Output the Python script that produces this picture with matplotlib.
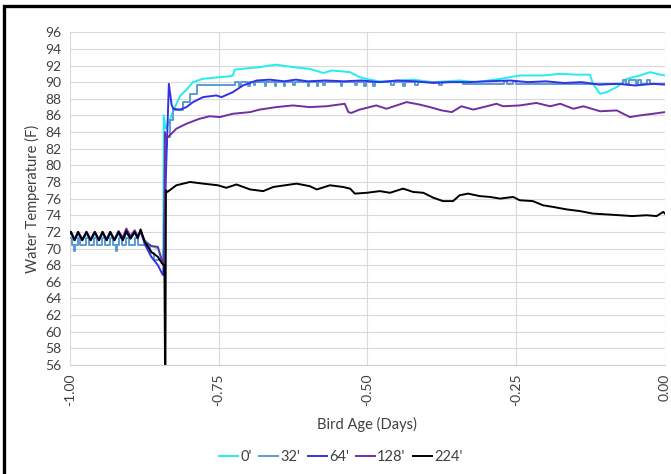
import matplotlib.pyplot as plt
from matplotlib.patches import Rectangle

plt.rcParams['font.family'] = ['Lato', 'DejaVu Sans']

# shared x points for the start (sawtooth section)
early_x = [-1.0, -0.998, -0.992, -0.986, -0.979, -0.972, -0.965, -0.958, -0.951,
           -0.945, -0.938, -0.932, -0.925, -0.918, -0.911, -0.905, -0.898, -0.891,
           -0.886, -0.881, -0.874, -0.863, -0.852, -0.845]

# 0'
x_0 = early_x + [-0.843, -0.842, -0.839, -0.832, -0.826, -0.815, -0.804, -0.793, -0.776,
                 -0.748, -0.731, -0.726, -0.723, -0.697, -0.681, -0.664, -0.653, -0.625,
                 -0.597, -0.574, -0.560, -0.529, -0.513, -0.496, -0.48, -0.46, -0.423,
                 -0.39, -0.345, -0.317, -0.277, -0.244, -0.205, -0.176, -0.148, -0.126,
                 -0.121, -0.109, -0.098, -0.081, -0.064, -0.042, -0.025, -0.008, 0.0]
y_0 = [71.8, 71.8, 71.0, 71.8, 71.0, 71.8, 71.0, 71.8, 71.0, 71.8, 71.0, 71.8, 71.0,
       71.8, 71.0, 71.9, 71.2, 71.9, 71.3, 72.0, 71.0, 70.3, 70.0, 68.5,
       70.0, 86.0, 84.4, 85.4, 86.6, 88.3, 89.1, 90.0, 90.4,
       90.6, 90.7, 90.8, 91.5, 91.7, 91.8, 92.0, 92.1, 91.8,
       91.6, 91.1, 91.4, 91.2, 90.6, 90.3, 90.1, 90.1, 90.3,
       90.0, 90.2, 90.0, 90.4, 90.8, 90.8, 91.0, 90.9, 90.9,
       89.8, 88.6, 88.8, 89.4, 90.4, 90.8, 91.2, 90.9, 90.8]

# 32' (stepped sensor readings)
x_32 = [-1.0, -0.996, -0.993, -0.991, -0.986, -0.982, -0.973, -0.968, -0.959, -0.955,
        -0.946, -0.941, -0.932, -0.927, -0.923, -0.921, -0.918, -0.913, -0.905, -0.900,
        -0.891, -0.886, -0.874, -0.866, -0.858, -0.848, -0.843, -0.840, -0.836, -0.832,
        -0.826, -0.81, -0.798, -0.787, -0.726, -0.723, -0.715, -0.713, -0.700, -0.698,
        -0.690, -0.688, -0.672, -0.670, -0.655, -0.653, -0.640, -0.638, -0.625, -0.622,
        -0.600, -0.598, -0.585, -0.583, -0.575, -0.572, -0.545, -0.543, -0.520, -0.518,
        -0.505, -0.503, -0.490, -0.488, -0.460, -0.455, -0.440, -0.437, -0.420, -0.415,
        -0.380, -0.375, -0.340, -0.27, -0.265, -0.255, -0.25, -0.07, -0.065, -0.06,
        -0.048, -0.045, -0.04, -0.03, -0.025, -0.015, 0.0]
y_32 = [71.3, 70.4, 69.7, 70.4, 71.3, 70.4, 71.3, 70.4, 71.3, 70.4,
        71.3, 70.4, 71.3, 70.4, 69.7, 70.4, 71.3, 70.4, 71.3, 70.4,
        71.3, 70.4, 70.4, 69.5, 68.6, 68.6, 68.0, 82.2, 83.4, 85.4,
        86.6, 87.6, 88.6, 89.6, 89.6, 90.0, 89.5, 90.0, 89.5, 90.0,
        89.6, 90.0, 89.5, 90.0, 89.5, 90.0, 89.5, 90.0, 89.6, 90.0,
        89.5, 90.0, 89.5, 90.0, 89.6, 90.0, 89.5, 90.0, 89.6, 90.0,
        89.5, 90.0, 89.5, 90.0, 89.6, 90.0, 89.5, 90.0, 89.6, 90.0,
        89.6, 90.0, 89.8, 90.1, 89.8, 90.1, 89.8, 90.3, 89.8, 90.3,
        89.8, 90.3, 89.8, 90.3, 89.8, 89.8, 89.8]

# 64'
x_64 = early_x + [-0.843, -0.838, -0.8335, -0.829, -0.826, -0.815, -0.804, -0.793, -0.776,
                  -0.754, -0.745, -0.726, -0.709, -0.686, -0.664, -0.64, -0.62, -0.60,
                  -0.57, -0.54, -0.51, -0.48, -0.45, -0.42, -0.39, -0.36, -0.33, -0.30,
                  -0.26, -0.23, -0.20, -0.17, -0.14, -0.11, -0.08, -0.05, -0.02, 0.0]
y_64 = [71.9, 71.9, 71.0, 71.9, 71.0, 71.9, 71.0, 71.9, 71.0, 71.9, 71.0, 71.9, 71.0,
        71.9, 71.0, 72.0, 71.2, 72.0, 71.2, 72.1, 70.5, 69.0, 68.0, 67.0,
        66.8, 80.0, 89.8, 87.3, 86.8, 86.7, 87.0, 87.6, 88.2,
        88.4, 88.2, 88.8, 89.6, 90.2, 90.3, 90.1, 90.3, 90.1,
        90.2, 90.1, 90.2, 90.0, 90.2, 90.1, 89.9, 90.0, 90.0, 90.1,
        90.2, 90.0, 90.1, 89.9, 90.0, 89.7, 89.8, 89.6, 89.8, 89.7]

# 128'
x_128 = early_x + [-0.842, -0.840, -0.838, -0.832, -0.821, -0.804, -0.782, -0.765, -0.748,
                   -0.726, -0.697, -0.681, -0.653, -0.625, -0.597, -0.569, -0.538, -0.532,
                   -0.527, -0.513, -0.485, -0.468, -0.434, -0.412, -0.395, -0.375, -0.358,
                   -0.342, -0.322, -0.305, -0.283, -0.272, -0.244, -0.216, -0.193, -0.176,
                   -0.154, -0.137, -0.109, -0.081, -0.059, -0.042, -0.020, 0.0]
y_128 = [72.0, 72.0, 71.1, 72.0, 71.1, 72.0, 71.1, 72.0, 71.1, 72.0, 71.1, 72.0, 71.1,
         72.1, 71.3, 72.4, 71.5, 72.2, 71.5, 72.0, 70.8, 70.3, 70.2, 68.5,
         68.0, 84.0, 83.2, 83.6, 84.4, 85.0, 85.6, 85.9, 85.8,
         86.2, 86.4, 86.7, 87.0, 87.2, 87.0, 87.1, 87.4, 86.4,
         86.3, 86.7, 87.2, 86.8, 87.6, 87.3, 87.0, 86.6, 86.4,
         87.1, 86.7, 87.0, 87.4, 87.1, 87.2, 87.5, 87.1, 87.4,
         86.8, 87.1, 86.5, 86.6, 85.8, 86.0, 86.2, 86.4]

# 224'
x_224 = early_x + [-0.841, -0.8395, -0.8385, -0.836, -0.821, -0.798, -0.776, -0.751, -0.737,
                   -0.720, -0.697, -0.675, -0.658, -0.619, -0.597, -0.585, -0.563, -0.541,
                   -0.529, -0.521, -0.501, -0.479, -0.462, -0.440, -0.423, -0.406, -0.389,
                   -0.373, -0.356, -0.345, -0.331, -0.311, -0.294, -0.277, -0.255, -0.244,
                   -0.222, -0.205, -0.188, -0.165, -0.143, -0.121, -0.098, -0.076, -0.055,
                   -0.031, -0.014, -0.003, 0.0]
y_224 = [71.8, 72.0, 71.0, 72.0, 71.0, 72.0, 71.0, 72.0, 71.0, 72.0, 71.0, 72.0, 71.0,
         72.0, 71.0, 72.1, 71.2, 72.0, 71.3, 72.3, 70.8, 69.6, 69.0, 68.2,
         68.0, 50.0, 77.0, 76.8, 77.6, 78.0, 77.8, 77.6, 77.3,
         77.7, 77.1, 76.9, 77.4, 77.8, 77.5, 77.1, 77.6, 77.4,
         77.2, 76.6, 76.7, 76.9, 76.7, 77.2, 76.8, 76.7, 76.1,
         75.7, 75.7, 76.4, 76.6, 76.3, 76.2, 76.0, 76.2, 75.8,
         75.7, 75.2, 75.0, 74.7, 74.5, 74.2, 74.1, 74.0, 73.9,
         74.0, 73.9, 74.4, 74.2]

fig = plt.figure(figsize=(6.71, 4.74), dpi=100)
ax = fig.add_axes([0.104, 0.23, 0.887, 0.702])

lw = 1.4
ax.plot(x_0, y_0, color='#22EEEE', lw=lw, label="0'")
ax.plot(x_32, y_32, color='#5B9BD5', lw=lw, drawstyle='steps-post', label="32'")
ax.plot(x_64, y_64, color='#3333E6', lw=lw, label="64'")
ax.plot(x_128, y_128, color='#7030A0', lw=lw, label="128'")
ax.plot(x_224, y_224, color='black', lw=lw, label="224'")

ax.set_xlim(-1.0, 0.0)
ax.set_ylim(56, 96)
ax.set_yticks(range(56, 97, 2))
ax.set_xticks([-1.0, -0.75, -0.5, -0.25, 0.0])
ax.set_xticklabels(['-1.00', '-0.75', '-0.50', '-0.25', '0.00'], rotation=90)
ax.tick_params(length=0, labelsize=10, labelcolor='#404040', pad=6)
ax.grid(True, color='#d9d9d9', lw=0.8)
ax.set_axisbelow(True)
for s in ['top', 'right', 'left']:
    ax.spines[s].set_visible(False)
ax.spines['bottom'].set_color('#d0d0d0')
ax.spines['bottom'].set_linewidth(0.8)

ax.set_xlabel('Bird Age (Days)', fontsize=10.5, color='#404040', labelpad=8)
ax.set_ylabel('Water Temperature (F)', fontsize=10.5, color='#404040', labelpad=4)

fig.legend(loc='center', bbox_to_anchor=(0.508, 0.035), ncol=5, frameon=False,
           fontsize=10.5, handlelength=1.3, handletextpad=0.15, columnspacing=0.5,
           labelcolor='#404040')

# black frame around the picture
fig.patches.append(Rectangle((0.006, -0.05), 1.1, 1.037, transform=fig.transFigure,
                             fill=False, edgecolor='black', lw=2.4))

fig.savefig('out.png', dpi=100)
